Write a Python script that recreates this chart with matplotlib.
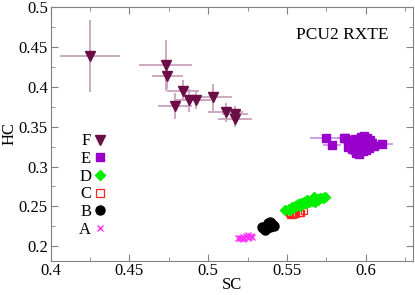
import numpy as np
import matplotlib
matplotlib.use("Agg")
import matplotlib.pyplot as plt
from matplotlib.ticker import MultipleLocator

plt.rcParams['font.family'] = ['Liberation Serif', 'DejaVu Serif']

# F: dark purple triangles with error bars
F_sc = [0.425, 0.473, 0.474, 0.484, 0.479, 0.488, 0.492, 0.503, 0.511, 0.517, 0.517]
F_hc = [0.439, 0.427, 0.413, 0.395, 0.376, 0.383, 0.384, 0.387, 0.368, 0.366, 0.359]
F_sc_err = [0.019, 0.017, 0.010, 0.010, 0.011, 0.009, 0.010, 0.012, 0.011, 0.008, 0.011]
F_hc_err = [0.045, 0.032, 0.016, 0.013, 0.016, 0.014, 0.012, 0.017, 0.012, 0.010, 0.009]

# E: purple squares
E_sc = [0.5746, 0.5786, 0.610, 0.587, 0.589, 0.591, 0.593, 0.595, 0.597, 0.599, 0.601,
        0.603, 0.590, 0.592, 0.594, 0.596, 0.598, 0.600, 0.602, 0.604, 0.591, 0.593,
        0.595, 0.597, 0.599, 0.601, 0.594, 0.596, 0.598, 0.600, 0.589, 0.605, 0.597,
        0.592, 0.602, 0.586]
E_hc = [0.3354, 0.327, 0.328, 0.336, 0.333, 0.330, 0.335, 0.332, 0.337, 0.338, 0.336,
        0.333, 0.327, 0.329, 0.325, 0.328, 0.330, 0.332, 0.329, 0.330, 0.322, 0.321,
        0.320, 0.323, 0.325, 0.326, 0.317, 0.316, 0.319, 0.321, 0.324, 0.326, 0.334,
        0.326, 0.323, 0.336]
E_sc_err = [0.010, 0.006, 0.007, 0.004, 0.003, 0.003, 0.003, 0.003, 0.003, 0.003, 0.003,
            0.003, 0.003, 0.003, 0.003, 0.003, 0.003, 0.003, 0.003, 0.004, 0.003, 0.003,
            0.003, 0.003, 0.003, 0.003, 0.003, 0.003, 0.003, 0.003, 0.003, 0.004, 0.003,
            0.003, 0.003, 0.004]
E_hc_err = [0.006, 0.004, 0.003, 0.003, 0.003, 0.003, 0.003, 0.003, 0.003, 0.003, 0.003,
            0.003, 0.003, 0.003, 0.003, 0.003, 0.003, 0.003, 0.003, 0.003, 0.003, 0.003,
            0.003, 0.003, 0.003, 0.003, 0.003, 0.003, 0.003, 0.003, 0.003, 0.003, 0.003,
            0.003, 0.003, 0.003]

# D: green diamonds
D_sc = [0.549, 0.551, 0.553, 0.552, 0.555, 0.554, 0.557, 0.556, 0.559, 0.558, 0.561, 0.560,
        0.563, 0.562, 0.565, 0.564, 0.567, 0.566, 0.569, 0.568, 0.571, 0.570, 0.573, 0.574]
D_hc = [0.246, 0.247, 0.249, 0.246, 0.251, 0.248, 0.253, 0.250, 0.254, 0.251, 0.256, 0.253,
        0.258, 0.254, 0.258, 0.256, 0.262, 0.257, 0.259, 0.256, 0.260, 0.258, 0.260, 0.262]

# C: red open squares
C_sc = [0.550, 0.551, 0.552, 0.553, 0.554, 0.556, 0.558, 0.559, 0.561, 0.552, 0.555]
C_hc = [0.246, 0.242, 0.240, 0.241, 0.239, 0.241, 0.242, 0.242, 0.244, 0.239, 0.240]

# B: black circles
B_sc = [0.534, 0.536, 0.535, 0.537, 0.538, 0.539, 0.540, 0.541, 0.542, 0.537, 0.539]
B_hc = [0.224, 0.221, 0.223, 0.226, 0.229, 0.230, 0.229, 0.227, 0.225, 0.223, 0.224]

# A: magenta crosses
A_sc = [0.519, 0.520, 0.521, 0.522, 0.523, 0.524, 0.525, 0.526, 0.527, 0.528, 0.522, 0.525]
A_hc = [0.210, 0.211, 0.210, 0.212, 0.211, 0.213, 0.214, 0.212, 0.213, 0.212, 0.209, 0.211]

fig = plt.figure(figsize=(4.15, 2.95), dpi=100)
ax = fig.add_axes([0.1222, 0.1163, 0.873, 0.860])

ax.errorbar(F_sc, F_hc, xerr=F_sc_err, yerr=F_hc_err, fmt='none', ecolor='#c9a3bd', elinewidth=1.3, zorder=2)
ax.errorbar(E_sc, E_hc, xerr=E_sc_err, yerr=E_hc_err, fmt='none', ecolor='#c98ce6', elinewidth=1.2, zorder=2)

ax.plot(A_sc, A_hc, 'x', color='#ff33ff', ms=4.5, mew=1.0, ls='none', zorder=3)
ax.plot(B_sc, B_hc, 'o', color='black', ms=6.5, ls='none', zorder=3)
ax.plot(C_sc, C_hc, 's', mfc='none', mec='#ff2020', ms=5, mew=0.9, ls='none', zorder=3)
ax.plot(D_sc, D_hc, 'D', color='#00ee00', ms=5, ls='none', zorder=4)
ax.plot(E_sc, E_hc, 's', color='#9900cc', ms=6, ls='none', zorder=3)
ax.plot(F_sc, F_hc, 'v', color='#6b0d46', ms=7, ls='none', zorder=3)

# legend proxies
hF, = ax.plot([], [], 'v', color='#6b0d46', ms=7)
hE, = ax.plot([], [], 's', color='#9900cc', ms=6)
hD, = ax.plot([], [], 'D', color='#00ee00', ms=5)
hC, = ax.plot([], [], 's', mfc='none', mec='#ff2020', ms=5.5, mew=0.9)
hB, = ax.plot([], [], 'o', color='black', ms=6.5)
hA, = ax.plot([], [], 'x', color='#ff33ff', ms=4.5, mew=1.0)
ax.legend([hF, hE, hD, hC, hB, hA], ['F', 'E', 'D', 'C', 'B', 'A'],
          loc='upper left', bbox_to_anchor=(0.06, 0.528), frameon=False,
          markerfirst=False, handlelength=0.6, handletextpad=0.25,
          labelspacing=0.1, fontsize=12, borderaxespad=0)

ax.text(0.585, 0.465, 'PCU2 RXTE', fontsize=12.5, ha='center', va='center')

ax.set_xlim(0.4, 0.63)
ax.set_ylim(0.182, 0.5)
ax.xaxis.set_minor_locator(MultipleLocator(0.025))
ax.yaxis.set_minor_locator(MultipleLocator(0.025))
ax.set_xticks([0.4, 0.45, 0.5, 0.55, 0.6])
ax.set_xticklabels(['0.4', '0.45', '0.5', '0.55', '0.6'])
ax.set_yticks([0.2, 0.25, 0.3, 0.35, 0.4, 0.45, 0.5])
ax.set_yticklabels(['0.2', '0.25', '0.3', '0.35', '0.4', '0.45', '0.5'])
ax.tick_params(which='both', direction='in', top=True, right=True, color='#808080', labelsize=12, pad=2)
ax.tick_params(which='major', length=5)
ax.tick_params(which='minor', length=3)
for s in ax.spines.values():
    s.set_color('#808080')

ax.set_xlabel('SC', fontsize=12, labelpad=-2)
ax.set_ylabel('HC', fontsize=12, labelpad=1)

fig.savefig('out.png', dpi=100)
